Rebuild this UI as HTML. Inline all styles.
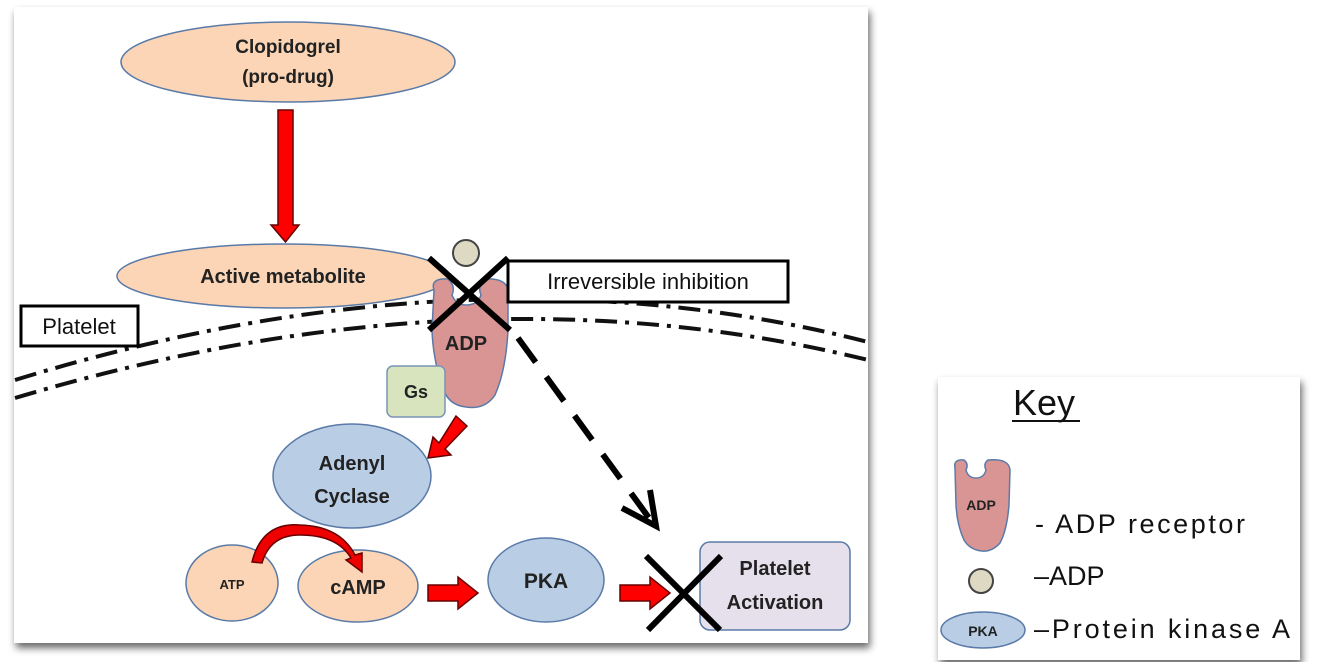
<!DOCTYPE html>
<html><head><meta charset="utf-8"><style>
html,body{margin:0;padding:0;background:#fff;}
svg{display:block;font-family:"Liberation Sans",sans-serif;}
.b{font-weight:bold;fill:#222;}
</style></head><body>
<svg width="1334" height="662" viewBox="0 0 1334 662">
<defs>
<filter id="sh" x="-5%" y="-5%" width="115%" height="115%"><feGaussianBlur in="SourceAlpha" stdDeviation="4"/><feOffset dx="2" dy="5"/><feComponentTransfer><feFuncA type="linear" slope="0.6"/></feComponentTransfer><feMerge><feMergeNode/><feMergeNode in="SourceGraphic"/></feMerge></filter>
</defs>
<rect x="14" y="7" width="854" height="636" fill="#fff" filter="url(#sh)"/>
<rect x="938" y="377" width="362" height="283" fill="#fff" filter="url(#sh)"/>

<!-- membrane -->
<path d="M15,380 Q470,240 868,342" fill="none" stroke="#111" stroke-width="4" stroke-dasharray="22,8,4,8"/>
<path d="M15,398 Q470,262 868,360" fill="none" stroke="#111" stroke-width="4" stroke-dasharray="22,8,4,8"/>

<ellipse cx="288" cy="62" rx="167" ry="40" fill="#fbd5b5" stroke="#5a7aa8" stroke-width="1.5"/>
<text x="288" y="53" text-anchor="middle" class="b" font-size="19">Clopidogrel</text>
<text x="288" y="83" text-anchor="middle" class="b" font-size="19">(pro-drug)</text>

<path d="M278,110 H293 V225 H299 L285.5,242 L271,225 H278 Z" fill="#f00" stroke="#600" stroke-width="1.5"/>

<ellipse cx="283" cy="276" rx="166" ry="32" fill="#fbd5b5" stroke="#5a7aa8" stroke-width="1.5"/>
<text x="283" y="283" text-anchor="middle" class="b" font-size="20">Active metabolite</text>

<!-- receptor -->
<path d="M434,290 Q430,278 448,279 Q456,286 452,295 Q456,305 466,305 Q478,305 481,295 Q477,286 485,279 Q508,278 508,292 L508,330 Q506,370 495,395 Q485,410 466,407 Q448,405 443,388 Q433,360 432,330 Z" fill="#d99594" stroke="#5a7aa8" stroke-width="1.5"/>
<text x="466" y="350" text-anchor="middle" class="b" font-size="20">ADP</text>
<circle cx="466" cy="253" r="13" fill="#ddd9c3" stroke="#444" stroke-width="2"/>
<line x1="429" y1="258" x2="510" y2="330" stroke="#000" stroke-width="6"/>
<line x1="508" y1="258" x2="429" y2="330" stroke="#000" stroke-width="6"/>

<rect x="508" y="261" width="280" height="41" fill="#fff" stroke="#000" stroke-width="3"/>
<text x="648" y="289" text-anchor="middle" font-size="22" fill="#111">Irreversible inhibition</text>
<rect x="21" y="306" width="117" height="40" fill="#fff" stroke="#000" stroke-width="3"/>
<text x="79" y="334" text-anchor="middle" font-size="22" fill="#111">Platelet</text>

<rect x="387" y="366" width="58" height="51" rx="6" fill="#d7e4bd" stroke="#7a93b8" stroke-width="1.5"/>
<text x="416" y="398" text-anchor="middle" class="b" font-size="18">Gs</text>

<path d="M456,416 L467,426 L445,449 L451,455 L428,458 L433,437 L439,443 Z" fill="#f00" stroke="#600" stroke-width="1.5"/>

<ellipse cx="352" cy="476" rx="79" ry="52" fill="#b9cde5" stroke="#5a7aa8" stroke-width="1.5"/>
<text x="352" y="470" text-anchor="middle" class="b" font-size="20">Adenyl</text>
<text x="352" y="503" text-anchor="middle" class="b" font-size="20">Cyclase</text>

<line x1="518" y1="338" x2="652" y2="522" stroke="#000" stroke-width="6" stroke-dasharray="30,18"/>
<polyline points="622,508 656,526 650,490" fill="none" stroke="#000" stroke-width="6"/>

<ellipse cx="232" cy="583" rx="46" ry="38" fill="#fbd5b5" stroke="#5a7aa8" stroke-width="1.5"/>
<text x="232" y="589" text-anchor="middle" class="b" font-size="13">ATP</text>
<ellipse cx="358" cy="586" rx="60" ry="36" fill="#fbd5b5" stroke="#5a7aa8" stroke-width="1.5"/>
<text x="358" y="594" text-anchor="middle" class="b" font-size="20">cAMP</text>

<path d="M252,562 Q262,522 300,525 Q340,526 355,555 L362,553 L362,572 L346,560 L351,558 Q337,535 300,535 Q270,535 262,563 Z" fill="#e00" stroke="#600" stroke-width="1.5"/>

<path d="M428,585 H458 V577 L478,593 L458,609 V601 H428 Z" fill="#f00" stroke="#600" stroke-width="1.5"/>
<ellipse cx="546" cy="580" rx="58" ry="42" fill="#b9cde5" stroke="#5a7aa8" stroke-width="1.5"/>
<text x="546" y="588" text-anchor="middle" class="b" font-size="21">PKA</text>
<path d="M620,585 H650 V577 L670,593 L650,609 V601 H620 Z" fill="#f00" stroke="#600" stroke-width="1.5"/>

<rect x="700" y="542" width="150" height="88" rx="10" fill="#e6e0ec" stroke="#5a7aa8" stroke-width="1.5"/>
<text x="775" y="575" text-anchor="middle" class="b" font-size="20">Platelet</text>
<text x="775" y="609" text-anchor="middle" class="b" font-size="20">Activation</text>
<line x1="646" y1="556" x2="720" y2="630" stroke="#000" stroke-width="6"/>
<line x1="721" y1="556" x2="648" y2="630" stroke="#000" stroke-width="6"/>

<!-- key -->
<text x="1013" y="415" font-size="36" fill="#111">Key</text>
<line x1="1012" y1="421" x2="1080" y2="421" stroke="#111" stroke-width="2"/>
<path d="M955,468 Q953,459 964,460 Q969,464 966,470 Q968,478 976,478 Q984,478 986,470 Q983,464 988,460 Q1009,458 1010,470 L1009,505 Q1007,530 1000,543 Q992,552 982,551 Q970,550 964,540 Q957,525 956,505 Z" fill="#d99594" stroke="#5a7aa8" stroke-width="1.5"/>
<text x="981" y="510" text-anchor="middle" class="b" font-size="14">ADP</text>
<text x="1035" y="533" font-size="27" fill="#111" textLength="210">- ADP receptor</text>
<circle cx="981" cy="581" r="12" fill="#ddd9c3" stroke="#444" stroke-width="2"/>
<text x="1034" y="585" font-size="27" fill="#111">–ADP</text>
<ellipse cx="983" cy="630" rx="42" ry="18" fill="#b9cde5" stroke="#5a7aa8" stroke-width="1.5"/>
<text x="983" y="636" text-anchor="middle" class="b" font-size="14">PKA</text>
<text x="1034" y="638" font-size="27" fill="#111" textLength="256">–Protein kinase A</text>
</svg>
</body></html>
